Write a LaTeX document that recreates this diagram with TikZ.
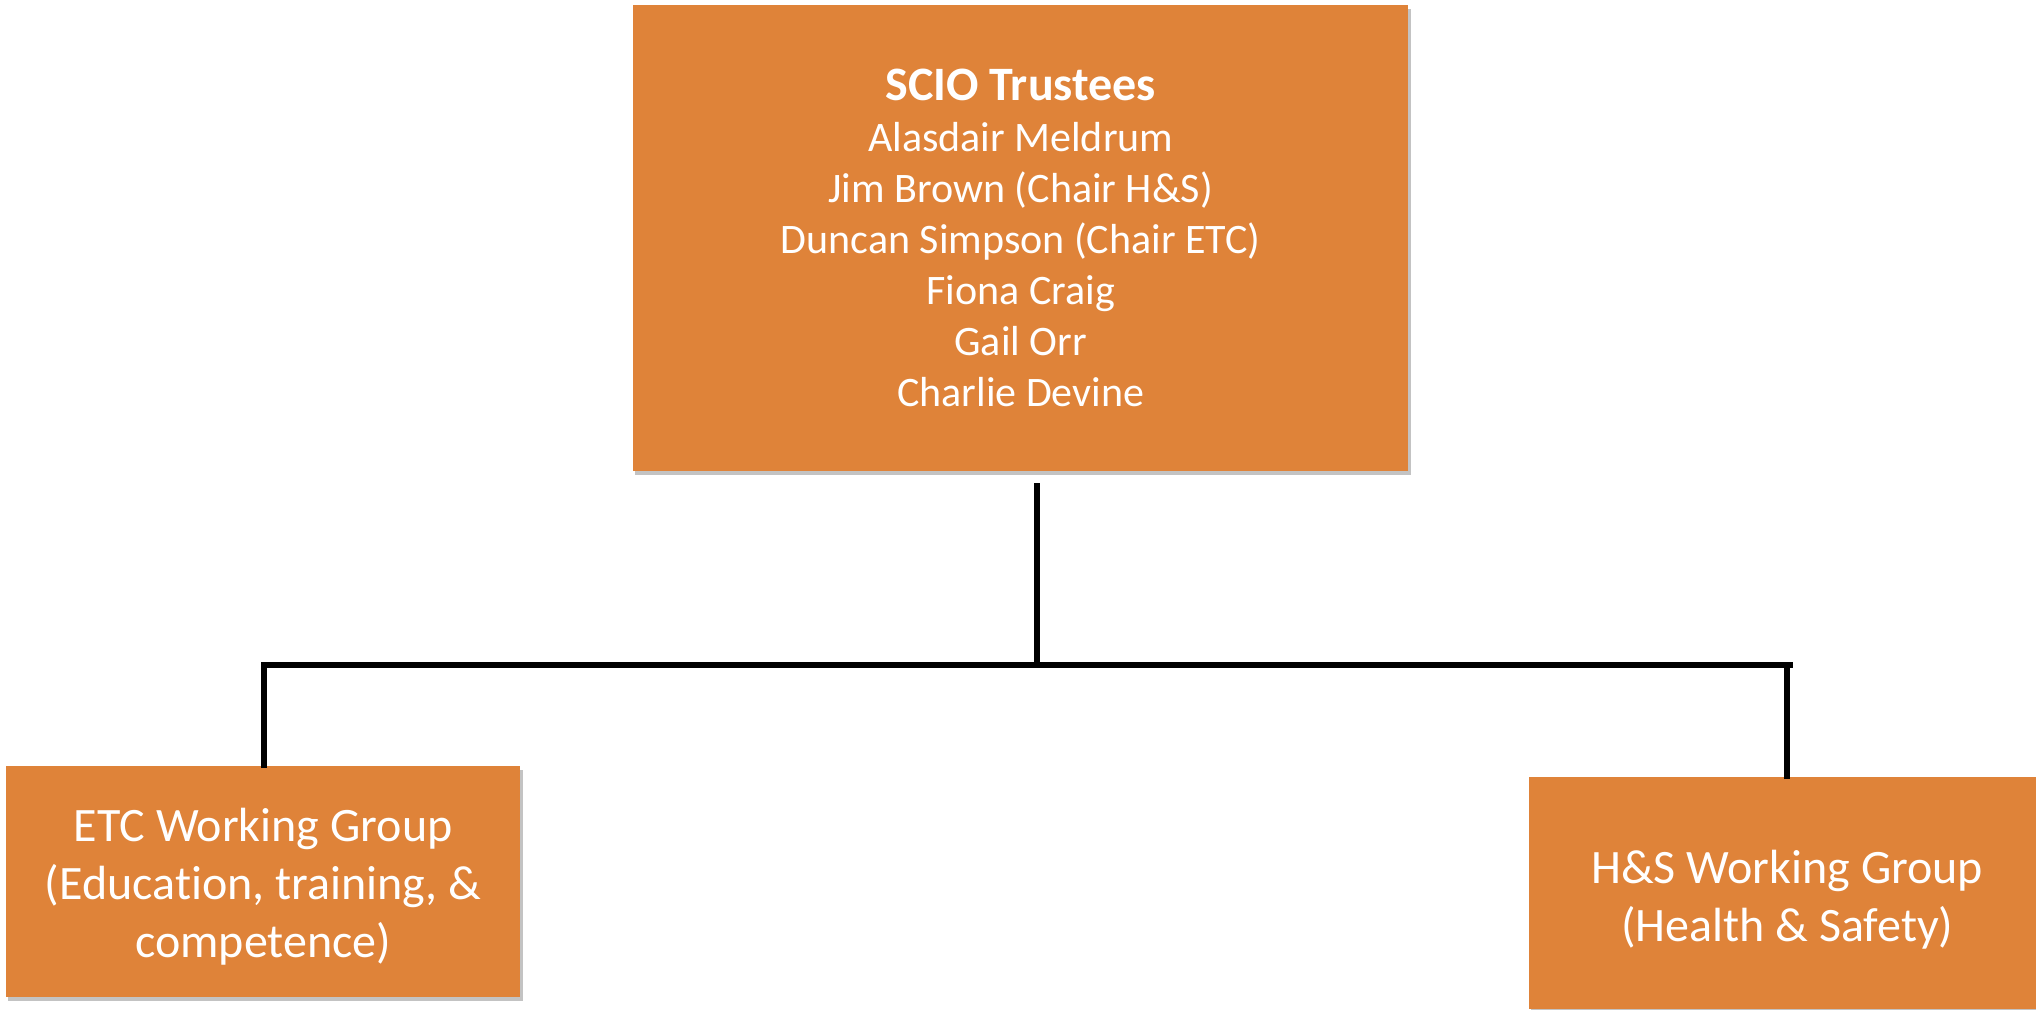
\documentclass[tikz,border=0pt]{standalone}
\usepackage{fontspec}
\setmainfont{Carlito}[Ligatures=NoCommon]
\definecolor{boxorange}{RGB}{223,131,57}
\definecolor{shadowgray}{RGB}{195,195,195}
\tikzset{
  orgbox/.style={draw=none, fill=boxorange, text=white, align=center, inner sep=0pt,
    anchor=north west},
  boxshadow/.style={fill=shadowgray},
  orgline/.style={line width=6pt, draw=black, line join=miter},
}
\begin{document}
\begin{tikzpicture}[x=1pt,y=-1pt]
\useasboundingbox (0,0) rectangle (2036,1009);
% shadows
\fill[boxshadow] (635,9) rectangle (1411,475);
\fill[boxshadow] (8,770) rectangle (523,1001);
\fill[boxshadow] (1531,781) rectangle (2047,1013);
% boxes
\node[orgbox, minimum width=775pt, minimum height=466pt,
  font=\fontsize{42}{51}\selectfont] (top) at (633,5)
  {{\fontsize{48}{51}\selectfont\bfseries SCIO Trustees}\\
   Alasdair Meldrum\\ Jim Brown (Chair H\&S)\\ Duncan Simpson (Chair ETC)\\ Fiona Craig\\ Gail Orr\\ Charlie Devine};
\node[orgbox, minimum width=514pt, minimum height=231pt,
  font=\fontsize{48}{58}\selectfont] (etc) at (6,766)
  {\rule{0pt}{44pt}ETC Working Group\\ (Education, training, \&\\ competence)};
\node[orgbox, minimum width=516pt, minimum height=232pt,
  font=\fontsize{48}{58}\selectfont] (hs) at (1529,777)
  {\rule{0pt}{46pt}H\&S Working Group\\ (Health \& Safety)};
% connectors
\coordinate (tA) at (1037,483);
\coordinate (bus) at (1037,665);
\coordinate (eTop) at (264,768);
\coordinate (busR) at (1793,665);
\coordinate (hTop) at (1787,779);
\draw[orgline] (tA) -- (bus);
\draw[orgline] (eTop) |- (busR);
\draw[orgline] (hTop) -- (hTop |- busR);
\end{tikzpicture}
\end{document}
